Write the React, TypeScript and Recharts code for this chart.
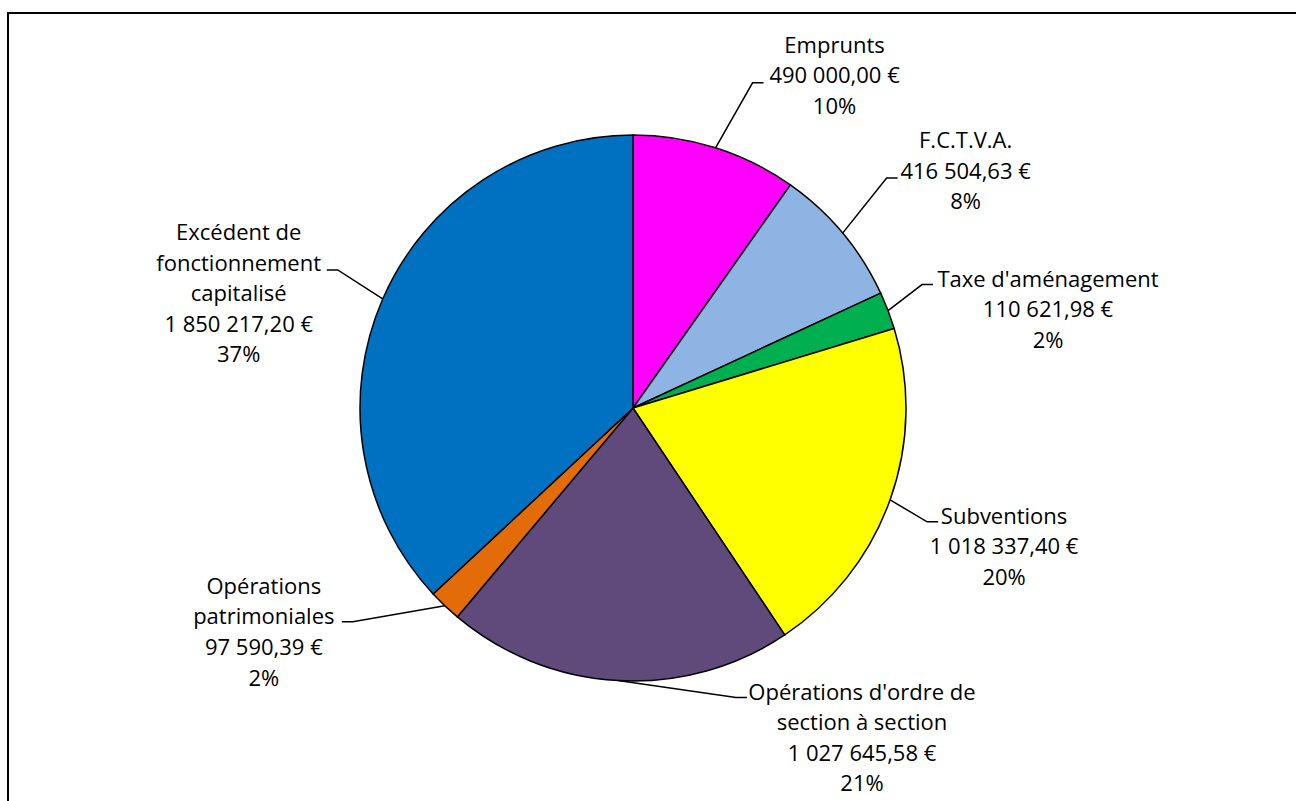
import React from 'react';
import { PieChart, Pie, Cell } from 'recharts';

// Recettes d'investissement
const categories = [
  'Emprunts',
  'F.C.T.V.A.',
  "Taxe d'aménagement",
  'Subventions',
  "Opérations d'ordre de section à section",
  'Opérations patrimoniales',
  'Excédent de fonctionnement capitalisé',
];
const amounts = [490000.0, 416504.63, 110621.98, 1018337.4, 1027645.58, 97590.39, 1850217.2];
const sliceColors = ['#FF00FF', '#8EB4E3', '#00B050', '#FFFF00', '#604A7B', '#E36C09', '#0070C0'];
// label wrapping, as the original breaks the longer names
const labelLines = [
  ['Emprunts'],
  ['F.C.T.V.A.'],
  ["Taxe d'aménagement"],
  ['Subventions'],
  ["Opérations d'ordre de", 'section à section'],
  ['Opérations', 'patrimoniales'],
  ['Excédent de', 'fonctionnement', 'capitalisé'],
];

// leader line elbow relative to arc point, text block offset relative to elbow
const labelLayout = [
  { ex: 37, ey: -65, tx: 82, ty: -38 },
  { ex: 44, ey: -55, tx: 79, ty: -38 },
  { ex: 34, ey: -26, tx: 126, ty: -6 },
  { ex: 37, ey: 22, tx: 77, ty: -6 },
  { ex: 118, ey: 17, tx: 126, ty: -6 },
  { ex: -92, ey: 16, tx: -89, ty: -36 },
  { ex: -45, ey: -29, tx: -99, ty: -38 },
];

const data = categories.map((name, i) => ({ name, value: amounts[i] }));

const RADIAN = Math.PI / 180;
const LINE_H = 30.6;

const formatEuro = (v: number): string => {
  const [int, dec] = v.toFixed(2).split('.');
  const grouped = int.replace(/\B(?=(\d{3})+(?!\d))/g, ' ');
  return `${grouped},${dec} €`;
};

const renderLabel = (props: any) => {
  const { cx, cy, midAngle, outerRadius, index, value, percent } = props;
  const layout = labelLayout[index];
  const px = cx + outerRadius * Math.cos(-midAngle * RADIAN);
  const py = cy + outerRadius * Math.sin(-midAngle * RADIAN);
  const bx = px + layout.ex;
  const by = py + layout.ey;
  const hx = bx + (layout.tx > 0 ? 11 : -11);
  const lines = [...labelLines[index], formatEuro(value), `${Math.round(percent * 100)}%`];
  const textX = bx + layout.tx;
  const firstY = by + layout.ty;
  return (
    <g key={`lbl-${index}`}>
      <polyline
        points={`${px},${py} ${bx},${by} ${hx},${by}`}
        fill="none"
        stroke="#000"
        strokeWidth={1.5}
      />
      <text
        x={textX}
        y={firstY}
        textAnchor="middle"
        fill="#000"
        fontFamily="'Open Sans', sans-serif"
        fontSize={22}
      >
        {lines.map((l, i) => (
          <tspan key={i} x={textX} y={firstY + 8 + i * LINE_H}>
            {l}
          </tspan>
        ))}
      </text>
    </g>
  );
};

export default function App(): React.JSX.Element {
  React.useEffect(() => {
    document.body.style.margin = '0';
    document.body.style.overflow = 'hidden';
  }, []);

  return (
    <div style={{ position: 'fixed', left: 0, top: 0, width: 1296, height: 801, background: '#fff', overflow: 'hidden' }}>
      <div
        style={{
          position: 'absolute',
          left: 7,
          top: 12,
          width: 1310,
          height: 810,
          border: '2px solid #000',
          boxSizing: 'border-box',
        }}
      />
      <div style={{ position: 'absolute', left: 0, top: 0 }}>
        <PieChart width={1296} height={801} margin={{ top: 0, right: 0, bottom: 0, left: 0 }}>
          <Pie
            data={data}
            dataKey="value"
            nameKey="name"
            cx={633}
            cy={408}
            outerRadius={273}
            startAngle={90}
            endAngle={-270}
            stroke="#000"
            strokeWidth={1.5}
            label={renderLabel}
            labelLine={false}
            isAnimationActive={false}
          >
            {data.map((d, i) => (
              <Cell key={d.name} fill={sliceColors[i]} />
            ))}
          </Pie>
        </PieChart>
      </div>
    </div>
  );
}
